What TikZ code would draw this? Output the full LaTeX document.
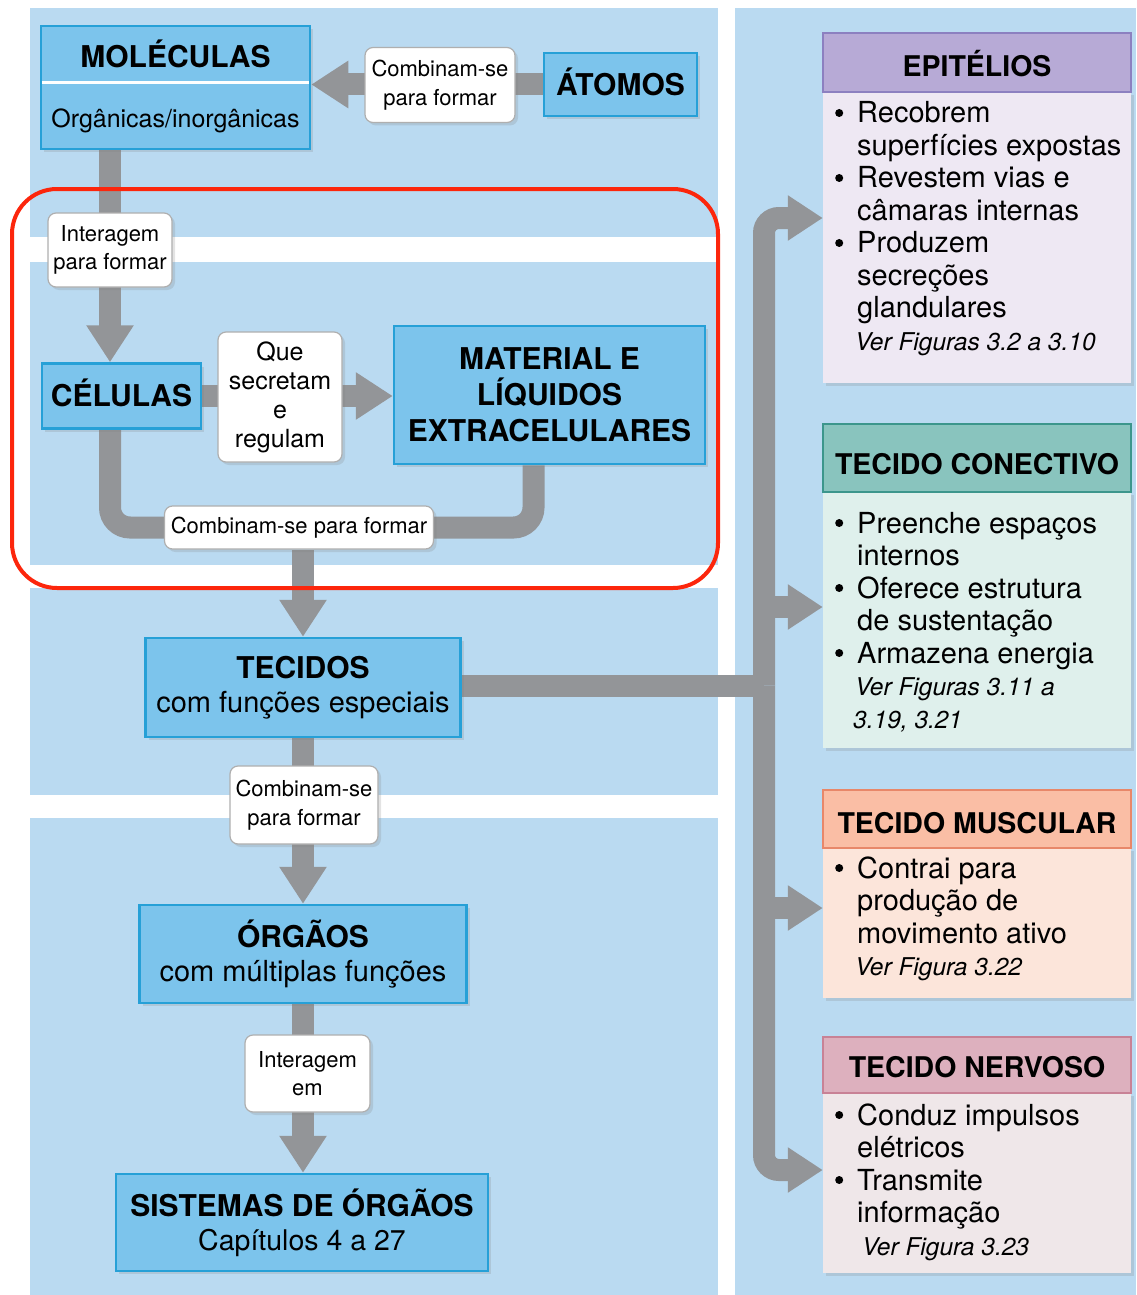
\documentclass[tikz,border=0pt]{standalone}
\usepackage{fontspec}
\setmainfont{TeX Gyre Heros}
\usetikzlibrary{arrows.meta,calc,shadows}
\definecolor{panel}{RGB}{186,218,241}
\definecolor{nodefill}{RGB}{124,196,236}
\definecolor{nodeline}{RGB}{38,160,215}
\definecolor{bandgray}{RGB}{147,149,152}
\definecolor{labline}{RGB}{175,175,175}
\definecolor{epiH}{RGB}{183,170,214}
\definecolor{epiL}{RGB}{140,128,192}
\definecolor{epiB}{RGB}{238,232,243}
\definecolor{conH}{RGB}{137,196,190}
\definecolor{conL}{RGB}{60,150,140}
\definecolor{conB}{RGB}{223,240,236}
\definecolor{musH}{RGB}{250,190,165}
\definecolor{musL}{RGB}{232,135,105}
\definecolor{musB}{RGB}{252,229,218}
\definecolor{nerH}{RGB}{221,176,190}
\definecolor{nerL}{RGB}{200,130,150}
\definecolor{nerB}{RGB}{239,231,233}
\definecolor{redline}{RGB}{252,38,12}
\pgfdeclarelayer{panels}
\pgfdeclarelayer{bands}
\pgfsetlayers{panels,bands,main}
\newcommand\bodylines[1]{\vtop{\baselineskip=32.5pt\lineskiplimit=-100pt #1}}
\newcommand\bdot{\hspace*{2pt}\tikz[baseline=0pt]\fill (0pt,10pt) circle (4pt);}
\newcommand\bitem[1]{\hbox{\makebox[24pt][l]{\bdot}#1}}
\newcommand\bcont[1]{\hbox{\hspace*{24pt}#1}}
\newcommand\bref[2]{\hbox{\hspace*{#1}{\fontsize{24.5}{32.5}\selectfont\itshape #2}}}
\tikzset{
  shad/.style={drop shadow={opacity=0.22, shadow xshift=3pt, shadow yshift=-3pt}},
  bluebox/.style={draw=nodeline, line width=2.5pt, fill=nodefill, inner sep=0pt, align=center, shad},
  labelbox/.style={draw=labline, line width=1.2pt, fill=white, rounded corners=8pt, inner sep=0pt, align=center, font=\fontsize{22}{28.5}\selectfont, shad},
  band/.style={draw=bandgray, line width=22pt, -{Triangle[length=37pt,width=45pt]}},
  rband/.style={draw=bandgray, line width=22pt, -{Triangle[length=35pt,width=43pt]}},
  bandline/.style={draw=bandgray, line width=22pt},
  headbox/.style={line width=2pt, minimum width=308pt, inner sep=0pt, text depth=0pt, font=\fontsize{28.5}{34}\selectfont\bfseries},
  bodybox/.style={minimum width=308pt, inner sep=0pt, shad},
  bodytext/.style={anchor=base west, inner sep=0pt, font=\fontsize{29}{32.5}\selectfont},
  capsbig/.style={font=\fontsize{30}{36}\selectfont\bfseries, text height=21.5pt, text depth=0pt}
}
\begin{document}
\begin{tikzpicture}[x=1pt,y=-1pt]
\useasboundingbox (0,0) rectangle (1136,1295);
\begin{pgfonlayer}{panels}
  \fill[panel] (30,8) rectangle (718,237);
  \fill[panel] (30,262) rectangle (718,565);
  \fill[panel] (30,588) rectangle (718,795);
  \fill[panel] (30,818) rectangle (718,1295);
  \fill[panel] (735,8) rectangle (1136,1295);
\end{pgfonlayer}

% ---- left column nodes
\node[bluebox, minimum width=269pt, minimum height=123pt] (moleculas) at (175.5,87.5) {};
\coordinate (divy) at (0,83);
\draw[white, line width=3pt, shorten <=2pt, shorten >=2pt] (moleculas.west |- divy) -- (moleculas.east |- divy);
\node[inner sep=0pt, font=\fontsize{30}{36}\selectfont\bfseries] (molT) at (175.5,54) {MOLÉCULAS};
\node[inner sep=0pt, font=\fontsize{25}{30}\selectfont] (molS) at (175.5,121) {Orgânicas/inorgânicas};

\node[bluebox, capsbig, minimum width=153pt, minimum height=63pt] (atomos) at (620.5,84.5) {ÁTOMOS};
\node[labelbox, minimum width=150pt, minimum height=75pt] (combina1) at (440,85) {Combinam-se\\para formar};

\node[labelbox, minimum width=124pt, minimum height=74pt] (interagem) at (110,250) {Interagem\\para formar};
\node[bluebox, capsbig, minimum width=159pt, minimum height=65pt] (celulas) at (121.5,396) {CÉLULAS};
\node[labelbox, minimum width=124pt, minimum height=130pt, font=\fontsize{25}{29}\selectfont] (que) at (280,397) {Que\\secretam\\e\\regulam};
\node[bluebox, minimum width=311pt, minimum height=138pt, font=\fontsize{30}{36}\selectfont\bfseries] (material) at (549.5,395) {MATERIAL E\\LÍQUIDOS\\EXTRACELULARES};
\node[labelbox, minimum width=269pt, minimum height=43pt] (combina3) at (299,527.5) {Combinam-se para formar};

\node[bluebox, minimum width=315pt, minimum height=99pt, font=\fontsize{29}{34}\selectfont] (tecidos) at (303,687.5) {{\fontsize{30}{34}\selectfont\bfseries TECIDOS}\\com funções especiais};
\node[labelbox, minimum width=148pt, minimum height=78pt] (combina2) at (304,805) {Combinam-se\\para formar};
\node[bluebox, minimum width=327pt, minimum height=98pt, font=\fontsize{29}{34}\selectfont] (orgaos) at (303,954) {{\fontsize{30}{34}\selectfont\bfseries ÓRGÃOS}\\com múltiplas funções};
\node[labelbox, minimum width=125pt, minimum height=77pt] (interagem2) at (307.5,1073.5) {Interagem\\em};
\node[bluebox, minimum width=372pt, minimum height=97pt, font=\fontsize{28.5}{34}\selectfont] (sistemas) at (302,1222.5) {{\fontsize{30}{34}\selectfont\bfseries SISTEMAS DE ÓRGÃOS}\\Capítulos 4 a 27};

% ---- right column
\node[bodybox, fill=epiB, minimum height=291pt] (epibody) at (977,237.5) {};
\node[headbox, fill=epiH, draw=epiL, minimum height=59pt, text height=27.5pt] (epihead) at (977,62.5) {EPITÉLIOS};
\node[bodytext] (epitext) at (833,123) {\bodylines{%
  \bitem{Recobrem}\bcont{superfícies expostas}%
  \bitem{Revestem vias e}\bcont{câmaras internas}%
  \bitem{Produzem}\bcont{secreções}\bcont{glandulares}%
  \bref{22pt}{Ver Figuras 3.2 a 3.10}}};

\node[bodybox, fill=conB, minimum height=256pt] (conbody) at (977,620) {};
\node[headbox, fill=conH, draw=conL, minimum height=68pt, text height=32pt] (conhead) at (977,458) {TECIDO CONECTIVO};
\node[bodytext] (context) at (833,533) {\bodylines{%
  \bitem{Preenche espaços}\bcont{internos}%
  \bitem{Oferece estrutura}\bcont{de sustentação}%
  \bitem{Armazena energia}%
  \bref{22pt}{Ver Figuras 3.11 a}\bref{20pt}{3.19, 3.21}}};

\node[bodybox, fill=musB, minimum height=150pt] (musbody) at (977,923) {};
\node[headbox, fill=musH, draw=musL, minimum height=58pt, text height=28.5pt] (mushead) at (977,819) {TECIDO MUSCULAR};
\node[bodytext] (mustext) at (833,878) {\bodylines{%
  \bitem{Contrai para}\bcont{produção de}\bcont{movimento ativo}%
  \bref{22pt}{Ver Figura 3.22}}};

\node[bodybox, fill=nerB, minimum height=180pt] (nerbody) at (977,1183) {};
\node[headbox, fill=nerH, draw=nerL, minimum height=56pt, text height=24.5pt] (nerhead) at (977,1065) {TECIDO NERVOSO};
\node[bodytext] (nertext) at (833,1125) {\bodylines{%
  \bitem{Conduz impulsos}\bcont{elétricos}%
  \bitem{Transmite}\bcont{informação}%
  \bref{29pt}{Ver Figura 3.23}}};

% ---- connectors
\coordinate (busx) at (764,0);
\coordinate (aEpi) at ($(epibody.west)+(0,-19.5)$);
\coordinate (aCon) at ($(conbody.west)+(0,-13)$);
\coordinate (aMus) at ($(musbody.west)+(0,-15)$);
\coordinate (aNer) at ($(nerbody.west)+(0,-13)$);
\begin{pgfonlayer}{bands}
  \draw[band] (atomos.west) -- (atomos.west -| moleculas.east);
  \draw[band] (interagem |- moleculas.south) -- (interagem |- celulas.north);
  \draw[band] (celulas.east) -- (celulas.east -| material.west);
  \draw[bandline, rounded corners=20pt] (interagem |- celulas.south) |- (combina3.west);
  \draw[bandline, rounded corners=20pt] ($(material.south)+(-16,0)$) |- (combina3.east);
  \draw[band] (combina3.south -| tecidos.north) -- (tecidos.north);
  \draw[band] (tecidos.south) -- (tecidos.south |- orgaos.north);
  \draw[band] (orgaos.south) -- (orgaos.south |- sistemas.north);
  \draw[bandline] ($(tecidos.east)+(0,-2)$) -- ($(tecidos.east -| busx)+(0,-2)$);
  \draw[rband, rounded corners=15pt] ($(tecidos.east -| busx)+(0,-2)$) |- (aEpi);
  \draw[rband, rounded corners=15pt] ($(tecidos.east -| busx)+(0,-2)$) |- (aNer);
  \draw[rband] (aCon -| busx) -- (aCon);
  \draw[rband] (aMus -| busx) -- (aMus);
\end{pgfonlayer}

% ---- highlight
\draw[redline, line width=4pt, rounded corners=45pt] (12,189) rectangle (718,588);
\end{tikzpicture}
\end{document}
